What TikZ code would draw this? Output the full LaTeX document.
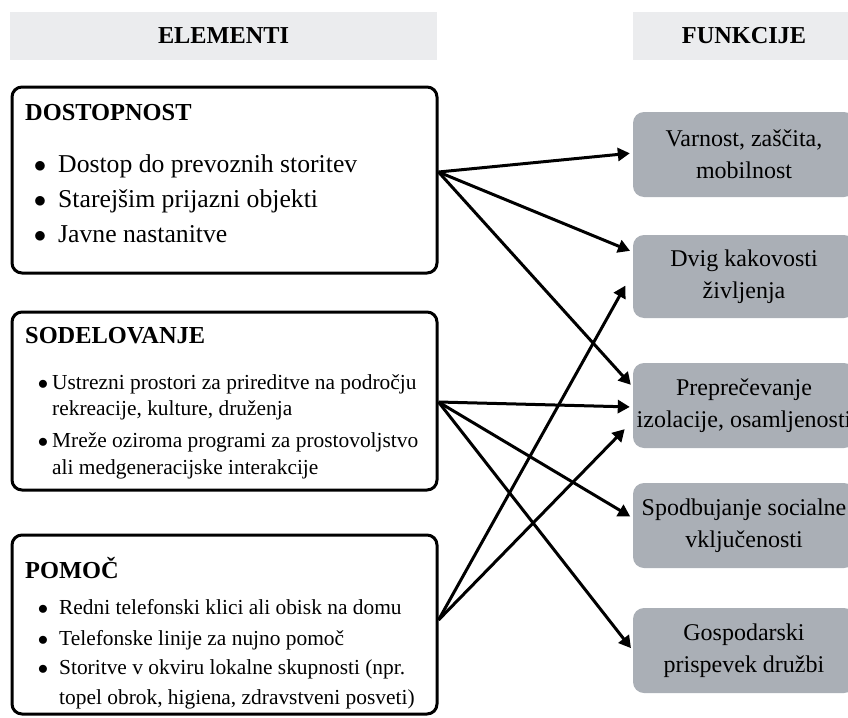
\documentclass[tikz,border=0pt]{standalone}
\usepackage{fontspec}
\setmainfont{Liberation Serif}
\usetikzlibrary{arrows.meta}

\definecolor{headgray}{RGB}{235,236,238}
\definecolor{funcgray}{RGB}{170,175,182}

\begin{document}
\begin{tikzpicture}[%
        x=1pt, y=-1pt,
        every node/.style={inner sep=0pt},
        head/.style={rectangle, fill=headgray, minimum height=48pt, font=\fontsize{24.3}{28}\selectfont\bfseries},
        elbox/.style={rectangle, draw, line width=3pt, rounded corners=10pt, minimum width=425pt},
        funcbox/.style={rectangle, fill=funcgray, rounded corners=11pt, minimum width=222pt, minimum height=85pt, align=center, font=\fontsize{24}{32}\selectfont},
        eltitle/.style={anchor=base west, font=\fontsize{24.4}{28}\selectfont\bfseries},
        bigitem/.style={anchor=base west, font=\fontsize{25.7}{30}\selectfont},
        smallitem/.style={anchor=base west, font=\fontsize{21.4}{26}\selectfont},
        bigbul/.style={anchor=base, font=\fontsize{25.7}{30}\selectfont},
        smallbul/.style={anchor=base, font=\fontsize{21.4}{26}\selectfont},
        >={Triangle[length=12pt,width=13pt]},
        arr/.style={->, line width=3pt, shorten >=3pt}
      ]
      \useasboundingbox (0,0) rectangle (848,717);

      % headers
      \node [head, minimum width=427pt] (elhead) at (223.5,36) {ELEMENTI};
      \node [head, minimum width=222pt] (fnhead) at (744,36) {FUNKCIJE};

      % elements
      \node [elbox, minimum height=186pt] (dost) at (224.5,180) {};
      \node [eltitle] (dostT) at (25,120) {DOSTOPNOST};
      \node [bigbul] (db1) at (40,172) {$\bullet$};
      \node [bigitem] (d1) at (58,172) {Dostop do prevoznih storitev};
      \node [bigbul] (db2) at (40,207) {$\bullet$};
      \node [bigitem] (d2) at (58,207) {Starejšim prijazni objekti};
      \node [bigbul] (db3) at (40,242) {$\bullet$};
      \node [bigitem] (d3) at (58,242) {Javne nastanitve};

      \node [elbox, minimum height=178pt] (sodel) at (224.5,401) {};
      \node [eltitle] (sodelT) at (25,343) {SODELOVANJE};
      \node [smallbul] (sb1) at (43,389) {$\bullet$};
      \node [smallitem] (s1) at (52,389) {Ustrezni prostori za prireditve na področju};
      \node [smallitem] (s1b) at (52,415) {rekreacije, kulture, druženja};
      \node [smallbul] (sb2) at (43,447) {$\bullet$};
      \node [smallitem] (s2) at (52,447) {Mreže oziroma programi za prostovoljstvo};
      \node [smallitem] (s2b) at (52,474) {ali medgeneracijske interakcije};

      \node [elbox, minimum height=179pt] (pomoc) at (224.5,624.5) {};
      \node [eltitle] (pomocT) at (25,578) {POMOČ};
      \node [smallbul] (pb1) at (43,614) {$\bullet$};
      \node [smallitem] (p1) at (59,614) {Redni telefonski klici ali obisk na domu};
      \node [smallbul] (pb2) at (43,645) {$\bullet$};
      \node [smallitem] (p2) at (59,645) {Telefonske linije za nujno pomoč};
      \node [smallbul] (pb3) at (43,674) {$\bullet$};
      \node [smallitem] (p3) at (59,674) {Storitve v okviru lokalne skupnosti (npr.};
      \node [smallitem] (p3b) at (59,704) {topel obrok, higiena, zdravstveni posveti)};

      % functions
      \node [funcbox] (f1) at (744,154.5) {Varnost, zaščita,\\mobilnost};
      \node [funcbox, minimum height=83pt] (f2) at (744,276.5) {Dvig kakovosti\\življenja};
      \node [funcbox] (f3) at (744,405.5) {Preprečevanje\\izolacije, osamljenosti};
      \node [funcbox] (f4) at (744,525.5) {Spodbujanje socialne\\vključenosti};
      \node [funcbox] (f5) at (744,650.5) {Gospodarski\\prispevek družbi};

      \path [draw] ([yshift=8pt]dost.east) edge[arr] ([yshift=1.5pt]f1.west)
      ([yshift=8pt]dost.east) edge[arr] ([yshift=24.5pt]f2.west)
      ([yshift=8pt]dost.east) edge[arr] ([yshift=18.5pt]f3.west)
      ([yshift=-1pt]sodel.east) edge[arr] ([yshift=-1.5pt]f3.west)
      ([yshift=-1pt]sodel.east) edge[arr] ([yshift=7.5pt]f4.west)
      ([yshift=-1pt]sodel.east) edge[arr] (f5.west)
      ([yshift=4.5pt]pomoc.east) edge[arr] ([xshift=-6pt,yshift=-6.5pt]f2.west)
      ([yshift=4.5pt]pomoc.east) edge[arr] ([xshift=-6pt,yshift=-21.5pt]f3.west);
    \end{tikzpicture}
\end{document}
